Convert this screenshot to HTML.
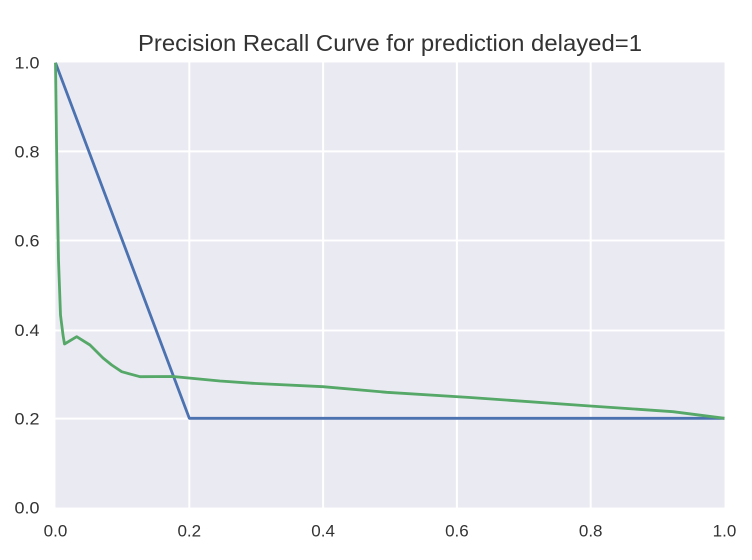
<!DOCTYPE html>
<html>
<head>
<meta charset="utf-8">
<style>
  html, body { margin: 0; padding: 0; background: #ffffff; }
  svg { display: block; }
  text { font-family: "Liberation Sans", Arial, sans-serif; fill: #333333; }
</style>
</head>
<body>
<svg width="752" height="560" viewBox="0 0 752 560" xmlns="http://www.w3.org/2000/svg">
  <rect x="0" y="0" width="752" height="560" fill="#ffffff"/>
  <!-- plot area -->
  <rect x="55.5" y="62.5" width="669" height="445" fill="#EAEAF2"/>
  <!-- grid lines -->
  <g stroke="#ffffff" stroke-width="2">
    <line x1="189.3" y1="62.5" x2="189.3" y2="507.5"/>
    <line x1="323.1" y1="62.5" x2="323.1" y2="507.5"/>
    <line x1="456.9" y1="62.5" x2="456.9" y2="507.5"/>
    <line x1="590.7" y1="62.5" x2="590.7" y2="507.5"/>
    <line x1="55.5" y1="151.4" x2="724.5" y2="151.4"/>
    <line x1="55.5" y1="240.5" x2="724.5" y2="240.5"/>
    <line x1="55.5" y1="330.5" x2="724.5" y2="330.5"/>
    <line x1="55.5" y1="418.6" x2="724.5" y2="418.6"/>
  </g>
  <!-- blue series -->
  <polyline fill="none" stroke="#4C72B0" stroke-width="2.8" stroke-linejoin="round" stroke-linecap="butt"
    points="55.5,62.7 189.3,418.3 724.5,418.3"/>
  <!-- green series -->
  <polyline fill="none" stroke="#55A868" stroke-width="2.8" stroke-linejoin="round" stroke-linecap="butt"
    points="55.5,62.7 57,180 58.5,260 60.5,315 63,335 64.5,344 76.7,336.7 90,345 103,358 111.7,365 121.7,371.7 140,376.7 173,376.5 220,381 253,383.3 323,386.7 386.7,392.3 470,397.5 590,406 673,411.7 724.5,418.3"/>
  <!-- title -->
  <text x="138" y="51" font-size="23.5" textLength="504" lengthAdjust="spacingAndGlyphs">Precision Recall Curve for prediction delayed=1</text>
  <!-- y tick labels -->
  <g font-size="17" text-anchor="end">
    <text x="39.5" y="68.5" textLength="25" lengthAdjust="spacingAndGlyphs">1.0</text>
    <text x="39.5" y="157.3" textLength="25" lengthAdjust="spacingAndGlyphs">0.8</text>
    <text x="39.5" y="246.3" textLength="25" lengthAdjust="spacingAndGlyphs">0.6</text>
    <text x="39.5" y="336" textLength="25" lengthAdjust="spacingAndGlyphs">0.4</text>
    <text x="39.5" y="424.3" textLength="25" lengthAdjust="spacingAndGlyphs">0.2</text>
    <text x="39.5" y="513.5" textLength="25" lengthAdjust="spacingAndGlyphs">0.0</text>
  </g>
  <!-- x tick labels -->
  <g font-size="17" text-anchor="middle">
    <text x="55.5" y="536.5">0.0</text>
    <text x="189.3" y="536.5">0.2</text>
    <text x="323.1" y="536.5">0.4</text>
    <text x="456.9" y="536.5">0.6</text>
    <text x="590.7" y="536.5">0.8</text>
    <text x="724.5" y="536.5">1.0</text>
  </g>
</svg>
</body>
</html>
